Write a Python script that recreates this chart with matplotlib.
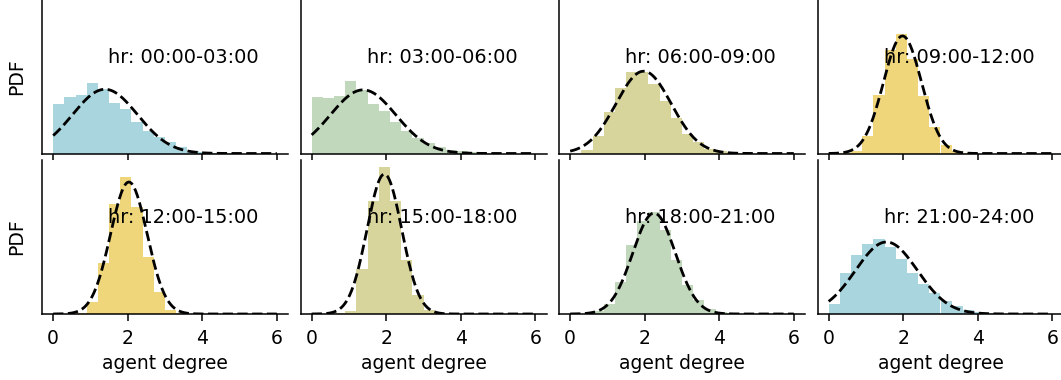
import numpy as np
import matplotlib
matplotlib.use("Agg")
import matplotlib.pyplot as plt

# ---------------- data ----------------
bin_edges = [round(0.3 * i, 2) for i in range(21)]  # 0 .. 6, 20 bins

labels = ["hr: 00:00-03:00", "hr: 03:00-06:00", "hr: 06:00-09:00", "hr: 09:00-12:00",
          "hr: 12:00-15:00", "hr: 15:00-18:00", "hr: 18:00-21:00", "hr: 21:00-24:00"]

dens_00_03 = [0.335, 0.383, 0.397, 0.483, 0.442, 0.347, 0.301, 0.216, 0.150, 0.114,
              0.075, 0.041, 0.018, 0.009, 0.005, 0.002, 0.0, 0.0, 0.0, 0.0]
dens_03_06 = [0.383, 0.376, 0.390, 0.490, 0.433, 0.340, 0.286, 0.211, 0.150, 0.104,
              0.070, 0.041, 0.025, 0.014, 0.007, 0.003, 0.0, 0.0, 0.0, 0.0]
dens_06_09 = [0.0, 0.025, 0.116, 0.281, 0.449, 0.558, 0.558, 0.476, 0.358, 0.240,
              0.134, 0.075, 0.032, 0.014, 0.007, 0.002, 0.0, 0.0, 0.0, 0.0]
dens_09_12 = [0.002, 0.005, 0.014, 0.120, 0.395, 0.707, 0.816, 0.646, 0.388, 0.177,
              0.061, 0.014, 0.005, 0.0, 0.0, 0.0, 0.0, 0.0, 0.0, 0.0]
dens_12_15 = [0.0, 0.0, 0.007, 0.080, 0.345, 0.750, 0.934, 0.728, 0.386, 0.148,
              0.029, 0.007, 0.0, 0.0, 0.0, 0.0, 0.0, 0.0, 0.0, 0.0]
dens_15_18 = [0.0, 0.0, 0.007, 0.022, 0.308, 0.767, 0.998, 0.767, 0.369, 0.127,
              0.029, 0.007, 0.0, 0.0, 0.0, 0.0, 0.0, 0.0, 0.0, 0.0]
dens_18_21 = [0.0, 0.0, 0.018, 0.068, 0.216, 0.467, 0.631, 0.694, 0.573, 0.369,
              0.199, 0.097, 0.036, 0.014, 0.007, 0.0, 0.0, 0.0, 0.0, 0.0]
dens_21_24 = [0.070, 0.281, 0.403, 0.476, 0.512, 0.454, 0.376, 0.281, 0.204, 0.143,
              0.086, 0.052, 0.029, 0.014, 0.007, 0.003, 0.0, 0.0, 0.0, 0.0]
densities = [dens_00_03, dens_03_06, dens_06_09, dens_09_12,
             dens_12_15, dens_15_18, dens_18_21, dens_21_24]

# fitted gaussian curves (amplitude, centre, width)
fit_amp = [0.437, 0.433, 0.560, 0.800, 0.898, 0.952, 0.687, 0.490]
fit_mu = [1.39, 1.38, 1.97, 1.98, 2.03, 1.95, 2.25, 1.55]
fit_sigma = [0.87, 0.88, 0.74, 0.51, 0.49, 0.465, 0.57, 0.83]

colors = ["#a8d5de", "#c1d8bc", "#d8d59c", "#f0d67a",
          "#f0d67a", "#d8d59c", "#c1d8bc", "#a8d5de"]

xticks = [0, 2, 4, 6]

# ---------------- figure ----------------
W, H = 1061, 380
fig = plt.figure(figsize=(W / 100, H / 100), dpi=100)

ax_w = 246
col_left = [42, 300.5, 559, 817.5]
row_top = [-0.5, 160]
ax_h = 154

FS = 13.5
axes = []
for r in range(2):
    for c in range(4):
        rect = [col_left[c] / W, 1 - (row_top[r] + ax_h) / H, ax_w / W, ax_h / H]
        ax = fig.add_axes(rect, sharex=axes[0] if axes else None,
                          sharey=axes[0] if axes else None)
        axes.append(ax)

edges = np.array(bin_edges)
xs = np.linspace(0, 6, 400)
for i, ax in enumerate(axes):
    d = np.array(densities[i])
    ax.bar(edges[:-1], d, width=np.diff(edges), align="edge",
           color=colors[i], linewidth=0)
    ys = fit_amp[i] * np.exp(-(xs - fit_mu[i]) ** 2 / (2 * fit_sigma[i] ** 2))
    ax.plot(xs, ys, "--", color="black", lw=2)
    ax.text(0.269, 0.59, labels[i], transform=ax.transAxes, fontsize=13.9,
            va="baseline", ha="left")
    for s in ["top", "right"]:
        ax.spines[s].set_visible(False)
    for s in ["left", "bottom"]:
        ax.spines[s].set_linewidth(1.1)
    ax.set_yticks([])
    ax.set_xticks(xticks)
    ax.tick_params(axis="x", labelsize=FS, width=1.1, length=5, pad=6)
    r, c = divmod(i, 4)
    if r == 0:
        ax.tick_params(axis="x", labelbottom=False)
    else:
        ax.set_xlabel("agent degree", fontsize=FS)
    if c == 0:
        ax.set_ylabel("PDF", fontsize=FS, labelpad=11.5)

axes[0].set_xlim(-0.3, 6.3)
axes[0].set_ylim(0, 1.048)

fig.savefig("out.png", dpi=100)
